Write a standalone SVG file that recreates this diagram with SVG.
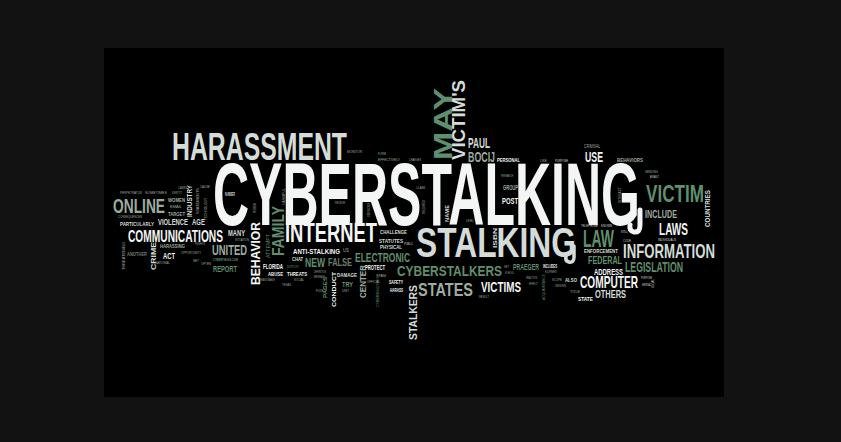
<svg xmlns="http://www.w3.org/2000/svg" width="841" height="442" viewBox="0 0 841 442">
<style>
text{font-family:"Liberation Sans",Arial,sans-serif;font-weight:bold}
.w{fill:#f3f6f4}.l{fill:#d4dcd7}.m{fill:#9eac9f}.g{fill:#5f8f6e}.d{fill:#6c7c6f}.t{font-weight:normal}
.sw{fill:none;stroke-linecap:round}
</style>
<rect x="0" y="0" width="841" height="442" fill="#121212"/>
<rect x="104" y="48" width="620" height="349" fill="#000"/>
<g id="big">
<text class="w" x="213" y="225" font-size="89" textLength="427" lengthAdjust="spacingAndGlyphs">CYBERSTALKING</text>
<path class="sw" d="M640 210 L640 225 Q640 233 634 232 Q629 231 630 225" stroke="#f3f6f4" stroke-width="5"/>
<text class="l" x="416" y="257" font-size="43" textLength="160" lengthAdjust="spacingAndGlyphs">STALKING</text>
<path class="sw" d="M574 246 L574 257 Q574 263 569 262 Q565 261 566 257" stroke="#d4dcd7" stroke-width="3.5"/>
<text class="l" x="172" y="160" font-size="38" textLength="175" lengthAdjust="spacingAndGlyphs">HARASSMENT</text>
<text class="g" transform="translate(452,160) rotate(-90)" font-size="26" textLength="72" lengthAdjust="spacingAndGlyphs">MAY</text>
<text class="l" transform="translate(465,160) rotate(-90)" font-size="18" textLength="80" lengthAdjust="spacingAndGlyphs">VICTIM'S</text>
</g>
<g id="left">
<text class="m" x="113" y="213" font-size="21" textLength="52" lengthAdjust="spacingAndGlyphs">ONLINE</text>
<text class="w" x="128" y="242" font-size="17" textLength="95" lengthAdjust="spacingAndGlyphs">COMMUNICATIONS</text>
<text class="l" x="158" y="225" font-size="9" textLength="30" lengthAdjust="spacingAndGlyphs">VIOLENCE</text>
<text class="l" x="192" y="225" font-size="9" textLength="13" lengthAdjust="spacingAndGlyphs">AGE</text>
<text class="l" x="228" y="236" font-size="9" textLength="17" lengthAdjust="spacingAndGlyphs">MANY</text>
<text class="l" x="120" y="226" font-size="6" textLength="34" lengthAdjust="spacingAndGlyphs">PARTICULARLY</text>
<text class="m" x="160" y="248" font-size="6" textLength="25" lengthAdjust="spacingAndGlyphs">HARASSING</text>
<text class="w" x="163" y="259" font-size="9" textLength="12" lengthAdjust="spacingAndGlyphs">ACT</text>
<text class="d" x="127" y="256" font-size="6" textLength="20" lengthAdjust="spacingAndGlyphs">ANOTHER</text>
<text class="m" x="168" y="202" font-size="6" textLength="17" lengthAdjust="spacingAndGlyphs">WOMEN</text>
<text class="m" x="168" y="216" font-size="6" textLength="17" lengthAdjust="spacingAndGlyphs">TARGET</text>
<text class="m" x="212" y="255" font-size="14" textLength="35" lengthAdjust="spacingAndGlyphs">UNITED</text>
<text class="g" x="213" y="272" font-size="9" textLength="24" lengthAdjust="spacingAndGlyphs">REPORT</text>
<text class="g" x="213" y="261" font-size="4" textLength="25" lengthAdjust="spacingAndGlyphs">CYBERTHUGS.COM</text>
<text class="l" x="225" y="196" font-size="5" textLength="10" lengthAdjust="spacingAndGlyphs">NUMBER</text>
<text class="l" transform="translate(156,270) rotate(-90)" font-size="8" textLength="28" lengthAdjust="spacingAndGlyphs">CRIME</text>
<text class="l" transform="translate(192,217) rotate(-90)" font-size="7" textLength="32" lengthAdjust="spacingAndGlyphs">INDUSTRY</text>
<text class="m t" transform="translate(199,214) rotate(-90)" font-size="4" textLength="26" lengthAdjust="spacingAndGlyphs">STATEMENTS</text>
<text class="m t" transform="translate(207,220) rotate(-90)" font-size="4" textLength="22" lengthAdjust="spacingAndGlyphs">TECHNOLOGY</text>
<text class="m t" transform="translate(125,270) rotate(-90)" font-size="4" textLength="28" lengthAdjust="spacingAndGlyphs">THREATENING</text>
<text class="m t" x="120" y="194" font-size="4" textLength="22" lengthAdjust="spacingAndGlyphs">PERPETRATOR</text>
<text class="m t" x="145" y="194" font-size="4" textLength="22" lengthAdjust="spacingAndGlyphs">SOMETIMES</text>
<text class="m t" x="172" y="194" font-size="4" textLength="10" lengthAdjust="spacingAndGlyphs">IDENTITY</text>
<text class="m t" x="178" y="189" font-size="4" textLength="9" lengthAdjust="spacingAndGlyphs">CASES</text>
<text class="m t" x="200" y="188" font-size="4" textLength="10" lengthAdjust="spacingAndGlyphs">CAUSE</text>
<text class="m t" x="170" y="208" font-size="3.5" textLength="12" lengthAdjust="spacingAndGlyphs">EMAIL</text>
<text class="m t" x="118" y="218" font-size="4" textLength="24" lengthAdjust="spacingAndGlyphs">CONSEQUENCES</text>
<text class="m t" x="195" y="245" font-size="4" textLength="10" lengthAdjust="spacingAndGlyphs">RIGHTS</text>
<text class="m t" x="181" y="254" font-size="4" textLength="20" lengthAdjust="spacingAndGlyphs">OPPORTUNITY</text>
<text class="m t" x="155" y="264" font-size="4" textLength="15" lengthAdjust="spacingAndGlyphs">NATIONAL</text>
<text class="m t" x="193" y="262" font-size="4" textLength="6" lengthAdjust="spacingAndGlyphs">SET</text>
<text class="m t" x="201" y="265" font-size="4" textLength="10" lengthAdjust="spacingAndGlyphs">OFTEN</text>
<text class="m t" x="235" y="241" font-size="4" textLength="14" lengthAdjust="spacingAndGlyphs">SITUATION</text>
<text class="m t" x="347" y="153" font-size="4" textLength="15" lengthAdjust="spacingAndGlyphs">MONITOR</text>
</g>
<g id="center">
<text class="w" x="285" y="242" font-size="27" textLength="92" lengthAdjust="spacingAndGlyphs">INTERNET</text>
<text class="g" transform="translate(284,256) rotate(-90)" font-size="16" textLength="50" lengthAdjust="spacingAndGlyphs">FAMILY</text>
<text class="g t" transform="translate(270,258) rotate(-90)" font-size="6" textLength="24" lengthAdjust="spacingAndGlyphs">ATTEMPT</text>
<text class="w" transform="translate(260,285) rotate(-90)" font-size="12" textLength="63" lengthAdjust="spacingAndGlyphs">BEHAVIOR</text>
<text class="l" x="380" y="234" font-size="6" textLength="27" lengthAdjust="spacingAndGlyphs">CHALLENGE</text>
<text class="l" x="379" y="243" font-size="6" textLength="24" lengthAdjust="spacingAndGlyphs">STATUTES</text>
<text class="l" x="380" y="249" font-size="6" textLength="22" lengthAdjust="spacingAndGlyphs">PHYSICAL</text>
<text class="l t" x="404" y="245" font-size="4" textLength="9" lengthAdjust="spacingAndGlyphs">PUBLIC</text>
<text class="w" x="293" y="254" font-size="7" textLength="47" lengthAdjust="spacingAndGlyphs">ANTI-STALKING</text>
<text class="m t" x="343" y="252" font-size="5" textLength="6" lengthAdjust="spacingAndGlyphs">US</text>
<text class="g" x="355" y="262" font-size="13" textLength="55" lengthAdjust="spacingAndGlyphs">ELECTRONIC</text>
<text class="l" x="292" y="261" font-size="6" textLength="11" lengthAdjust="spacingAndGlyphs">CHAT</text>
<text class="g" x="305" y="267" font-size="13" textLength="20" lengthAdjust="spacingAndGlyphs">NEW</text>
<text class="d" x="328" y="266" font-size="10" textLength="24" lengthAdjust="spacingAndGlyphs">FALSE</text>
<text class="w" x="263" y="269" font-size="8" textLength="20" lengthAdjust="spacingAndGlyphs">FLORIDA</text>
<text class="d t" x="287" y="268" font-size="4" textLength="12" lengthAdjust="spacingAndGlyphs">SUPPORT</text>
<text class="w" x="365" y="270" font-size="7" textLength="20" lengthAdjust="spacingAndGlyphs">PROTECT</text>
<text class="w" x="268" y="276" font-size="6" textLength="15" lengthAdjust="spacingAndGlyphs">ABUSE</text>
<text class="w" x="287" y="276" font-size="6" textLength="20" lengthAdjust="spacingAndGlyphs">THREATS</text>
<text class="l" x="337" y="277" font-size="6" textLength="20" lengthAdjust="spacingAndGlyphs">DAMAGE</text>
<text class="m t" x="314" y="273" font-size="4" textLength="12" lengthAdjust="spacingAndGlyphs">DEFINITION</text>
<text class="m t" x="314" y="278" font-size="4" textLength="11" lengthAdjust="spacingAndGlyphs">MESSAGE</text>
<text class="m t" x="260" y="281" font-size="4" textLength="15" lengthAdjust="spacingAndGlyphs">REASONABLE</text>
<text class="m t" x="294" y="281" font-size="4" textLength="10" lengthAdjust="spacingAndGlyphs">SOCIAL</text>
<text class="m t" x="282" y="286" font-size="4" textLength="9" lengthAdjust="spacingAndGlyphs">TEXAS</text>
<text class="g" x="342" y="287" font-size="8" textLength="11" lengthAdjust="spacingAndGlyphs">TRY</text>
<text class="m t" x="342" y="292" font-size="4" textLength="7" lengthAdjust="spacingAndGlyphs">UNIT</text>
<text class="m t" x="316" y="292" font-size="4" textLength="8" lengthAdjust="spacingAndGlyphs">FOUND</text>
<text class="m" transform="translate(366,298) rotate(-90)" font-size="9" textLength="33" lengthAdjust="spacingAndGlyphs">CENTER</text>
<text class="g" transform="translate(327,298) rotate(-90)" font-size="6" textLength="21" lengthAdjust="spacingAndGlyphs">PAGES</text>
<text class="w" transform="translate(336,307) rotate(-90)" font-size="6" textLength="35" lengthAdjust="spacingAndGlyphs">CONDUCT</text>
<text class="g t" transform="translate(379,307) rotate(-90)" font-size="4" textLength="30" lengthAdjust="spacingAndGlyphs">CYBERBULLYING</text>
<text class="m t" x="376" y="277" font-size="4" textLength="10" lengthAdjust="spacingAndGlyphs">SPAM</text>
<text class="m t" x="367" y="283" font-size="4" textLength="13" lengthAdjust="spacingAndGlyphs">OFFICIAL</text>
<text class="m t" x="335" y="204" font-size="4" textLength="10" lengthAdjust="spacingAndGlyphs">RECEIVE</text>
<text class="m t" transform="translate(285,205) rotate(-90)" font-size="4" textLength="17" lengthAdjust="spacingAndGlyphs">HARMFUL</text>
<text class="m t" transform="translate(256,213) rotate(-90)" font-size="4" textLength="10" lengthAdjust="spacingAndGlyphs">PERSON</text>
<text class="m t" transform="translate(370,217) rotate(-90)" font-size="4" textLength="14" lengthAdjust="spacingAndGlyphs">VERSIONS</text>
<text class="m t" transform="translate(425,214) rotate(-90)" font-size="4" textLength="14" lengthAdjust="spacingAndGlyphs">REQUIRED</text>
<text class="m t" x="378" y="155" font-size="4" textLength="8" lengthAdjust="spacingAndGlyphs">FORM</text>
<text class="m t" x="378" y="161" font-size="4" textLength="22" lengthAdjust="spacingAndGlyphs">EFFECTIVELY</text>
<text class="m t" x="409" y="161" font-size="4" textLength="12" lengthAdjust="spacingAndGlyphs">CHARGES</text>
<text class="m t" x="416" y="189" font-size="4" textLength="9" lengthAdjust="spacingAndGlyphs">CLAIM</text>
</g>
<g id="middle">
<text class="l" x="468" y="148" font-size="14" textLength="22" lengthAdjust="spacingAndGlyphs">PAUL</text>
<text class="m" x="468" y="162" font-size="14" textLength="27" lengthAdjust="spacingAndGlyphs">BOCIJ</text>
<text class="w" x="497" y="162" font-size="6" textLength="23" lengthAdjust="spacingAndGlyphs">PERSONAL</text>
<text class="m t" x="501" y="177" font-size="4" textLength="12" lengthAdjust="spacingAndGlyphs">RESEARCH</text>
<text class="m" x="503" y="190" font-size="7" textLength="15" lengthAdjust="spacingAndGlyphs">GROUP</text>
<text class="w" x="502" y="204" font-size="9" textLength="16" lengthAdjust="spacingAndGlyphs">POST</text>
<text class="l" transform="translate(449,222) rotate(-90)" font-size="5" textLength="17" lengthAdjust="spacingAndGlyphs">NAME</text>
<text class="l" transform="translate(497,248) rotate(-90)" font-size="5" textLength="20" lengthAdjust="spacingAndGlyphs">ISBN</text>
<text class="m t" x="466" y="222" font-size="4" textLength="8" lengthAdjust="spacingAndGlyphs">LEVEL</text>
<text class="g" x="397" y="276" font-size="15" textLength="105" lengthAdjust="spacingAndGlyphs">CYBERSTALKERS</text>
<text class="g" x="513" y="270" font-size="9" textLength="26" lengthAdjust="spacingAndGlyphs">PRAEGER</text>
<text class="m t" x="504" y="268" font-size="4" textLength="5" lengthAdjust="spacingAndGlyphs">SET</text>
<text class="m t" x="505" y="274" font-size="4" textLength="9" lengthAdjust="spacingAndGlyphs">SCHOOL</text>
<text class="m t" x="526" y="279" font-size="4" textLength="11" lengthAdjust="spacingAndGlyphs">REACTION</text>
<text class="m t" x="529" y="285" font-size="4" textLength="9" lengthAdjust="spacingAndGlyphs">EFFECT</text>
<text class="m" x="418" y="296" font-size="19" textLength="55" lengthAdjust="spacingAndGlyphs">STATES</text>
<text class="w" x="481" y="292" font-size="14" textLength="40" lengthAdjust="spacingAndGlyphs">VICTIMS</text>
<text class="m t" x="479" y="298" font-size="4" textLength="10" lengthAdjust="spacingAndGlyphs">RESULT</text>
<text class="w" x="389" y="284" font-size="6" textLength="14" lengthAdjust="spacingAndGlyphs">SAFETY</text>
<text class="w" x="390" y="292" font-size="6" textLength="13" lengthAdjust="spacingAndGlyphs">HARASS</text>
<text class="l" transform="translate(417,340) rotate(-90)" font-size="10" textLength="55" lengthAdjust="spacingAndGlyphs">STALKERS</text>
</g>
<g id="right">
<text class="m t" x="584" y="148" font-size="5" textLength="16" lengthAdjust="spacingAndGlyphs">CRIMINAL</text>
<text class="w" x="585" y="162" font-size="15" textLength="18" lengthAdjust="spacingAndGlyphs">USE</text>
<text class="m" x="617" y="162" font-size="6" textLength="26" lengthAdjust="spacingAndGlyphs">BEHAVIORS</text>
<text class="m t" x="540" y="162" font-size="4" textLength="7" lengthAdjust="spacingAndGlyphs">LIKE</text>
<text class="l t" x="555" y="162" font-size="4" textLength="13" lengthAdjust="spacingAndGlyphs">PURPOSE</text>
<text class="m t" x="645" y="173" font-size="4" textLength="13" lengthAdjust="spacingAndGlyphs">SENDING</text>
<text class="l t" x="650" y="178" font-size="4" textLength="9" lengthAdjust="spacingAndGlyphs">ASSAULT</text>
<text class="g" x="646" y="202" font-size="24" textLength="58" lengthAdjust="spacingAndGlyphs">VICTIM</text>
<text class="l" transform="translate(710,227) rotate(-90)" font-size="7" textLength="37" lengthAdjust="spacingAndGlyphs">COUNTRIES</text>
<text class="m t" transform="translate(621,203) rotate(-90)" font-size="4" textLength="16" lengthAdjust="spacingAndGlyphs">INTERACT</text>
<text class="m" x="645" y="218" font-size="10" textLength="32" lengthAdjust="spacingAndGlyphs">INCLUDE</text>
<text class="w" x="659" y="235" font-size="17" textLength="29" lengthAdjust="spacingAndGlyphs">LAWS</text>
<text class="l t" x="658" y="241" font-size="4" textLength="18" lengthAdjust="spacingAndGlyphs">INDIVIDUALS</text>
<text class="g" x="583" y="247" font-size="24" textLength="31" lengthAdjust="spacingAndGlyphs">LAW</text>
<text class="l t" x="581" y="227" font-size="4" textLength="17" lengthAdjust="spacingAndGlyphs">TELEPHONE</text>
<text class="l t" x="601" y="227" font-size="4" textLength="11" lengthAdjust="spacingAndGlyphs">KNOWN</text>
<text class="l t" x="621" y="233" font-size="4" textLength="7" lengthAdjust="spacingAndGlyphs">STILL</text>
<text class="l t" x="623" y="242" font-size="4" textLength="8" lengthAdjust="spacingAndGlyphs">CODE</text>
<text class="l" x="584" y="253" font-size="6" textLength="34" lengthAdjust="spacingAndGlyphs">ENFORCEMENT</text>
<text class="l" x="623" y="258" font-size="21" textLength="92" lengthAdjust="spacingAndGlyphs">INFORMATION</text>
<text class="g" x="588" y="264" font-size="11" textLength="34" lengthAdjust="spacingAndGlyphs">FEDERAL</text>
<text class="g" x="625" y="272" font-size="14" textLength="58" lengthAdjust="spacingAndGlyphs">LEGISLATION</text>
<text class="w" x="594" y="275" font-size="9" textLength="29" lengthAdjust="spacingAndGlyphs">ADDRESS</text>
<text class="w" x="580" y="288" font-size="17" textLength="58" lengthAdjust="spacingAndGlyphs">COMPUTER</text>
<text class="l" x="595" y="298" font-size="11" textLength="31" lengthAdjust="spacingAndGlyphs">OTHERS</text>
<text class="w" x="578" y="301" font-size="6" textLength="15" lengthAdjust="spacingAndGlyphs">STATE</text>
<text class="l t" x="641" y="279" font-size="4" textLength="11" lengthAdjust="spacingAndGlyphs">PURPOSE</text>
<text class="l t" x="642" y="286" font-size="4" textLength="9" lengthAdjust="spacingAndGlyphs">MENTAL</text>
<text class="l t" transform="translate(654,288) rotate(-90)" font-size="4" textLength="9" lengthAdjust="spacingAndGlyphs">LEGAL</text>
<text class="w" x="543" y="268" font-size="5" textLength="14" lengthAdjust="spacingAndGlyphs">INCLUDES</text>
<text class="m t" x="545" y="273" font-size="4" textLength="12" lengthAdjust="spacingAndGlyphs">EQUIPMENT</text>
<text class="l" x="565" y="282" font-size="5" textLength="12" lengthAdjust="spacingAndGlyphs">ALSO</text>
<text class="m t" x="552" y="281" font-size="4" textLength="10" lengthAdjust="spacingAndGlyphs">SCOPE</text>
<text class="m t" x="555" y="287" font-size="4" textLength="11" lengthAdjust="spacingAndGlyphs">UNKNOWN</text>
<text class="m t" x="570" y="293" font-size="4" textLength="10" lengthAdjust="spacingAndGlyphs">TITLE</text>
<text class="g t" transform="translate(545,300) rotate(-90)" font-size="4" textLength="26" lengthAdjust="spacingAndGlyphs">ACQUAINTANCE</text>
</g>
</svg>
